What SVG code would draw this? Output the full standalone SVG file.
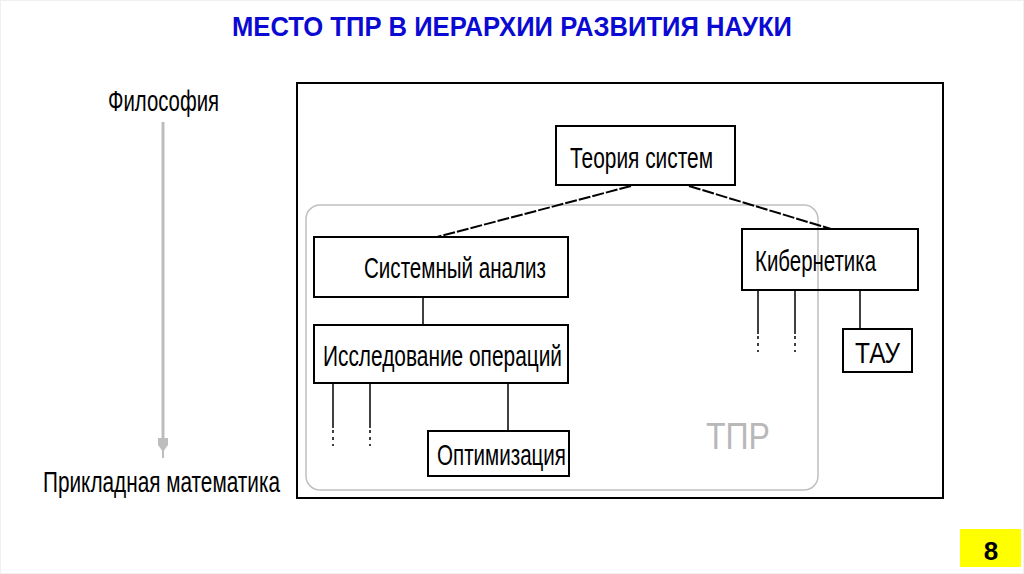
<svg xmlns="http://www.w3.org/2000/svg" width="1024" height="574" viewBox="0 0 1024 574">
<style>
.box{fill:#fff;stroke:#000;stroke-width:2}
.t{font-family:"Liberation Sans",Arial,sans-serif;font-size:29px;fill:#000}
.ln{stroke:#000;stroke-width:1.5;fill:none}
.dash{stroke:#000;stroke-width:2;fill:none;stroke-dasharray:12 2}
.dot{stroke:#000;stroke-width:1.5;fill:none;stroke-dasharray:3 4}
</style>
<rect x="0" y="0" width="1024" height="574" fill="#fff"/>
<rect x="0.5" y="0.5" width="1023" height="573" fill="none" stroke="#f0f0f0"/>
<text x="512" y="36" text-anchor="middle" font-family="Liberation Sans,Arial,sans-serif" font-weight="bold" font-size="27" fill="#0a0ad2" textLength="560" lengthAdjust="spacingAndGlyphs">МЕСТО ТПР В ИЕРАРХИИ РАЗВИТИЯ НАУКИ</text>

<rect x="297" y="83" width="646" height="415" fill="none" stroke="#000" stroke-width="2"/>

<g id="tpr">
<rect x="306" y="205" width="512" height="285" rx="14" fill="none" stroke="#c0c0c0" stroke-width="1.5"/>
<text x="706" y="449" font-family="Liberation Sans,Arial,sans-serif" font-size="36" fill="#b8b8b8" textLength="64" lengthAdjust="spacingAndGlyphs">ТПР</text>
</g>

<g id="axis">
<text x="108" y="111" class="t" textLength="111" lengthAdjust="spacingAndGlyphs">Философия</text>
<line x1="163" y1="122" x2="163" y2="440" stroke="#bdbdbd" stroke-width="3"/>
<path d="M158,438 L168,438 L168,445 L163,452 L158,445 Z" fill="#bdbdbd"/>
<line x1="163" y1="450" x2="163" y2="458" stroke="#bdbdbd" stroke-width="2"/>
<text x="43" y="492" class="t" textLength="237" lengthAdjust="spacingAndGlyphs">Прикладная математика</text>
</g>

<g id="connectors">
<line class="dash" x1="631" y1="186" x2="437" y2="237"/>
<line class="dash" x1="689" y1="186" x2="831" y2="229"/>
<line class="ln" x1="423" y1="297" x2="423" y2="325"/>
<line class="ln" x1="333" y1="383" x2="333" y2="428"/>
<line class="dot" x1="333" y1="430" x2="333" y2="446"/>
<line class="ln" x1="370" y1="383" x2="370" y2="428"/>
<line class="dot" x1="370" y1="430" x2="370" y2="446"/>
<line class="ln" x1="508" y1="383" x2="508" y2="431"/>
<line class="ln" x1="758" y1="290" x2="758" y2="334"/>
<line class="dot" x1="758" y1="336" x2="758" y2="352"/>
<line class="ln" x1="795" y1="290" x2="795" y2="334"/>
<line class="dot" x1="795" y1="336" x2="795" y2="352"/>
<line class="ln" x1="860" y1="290" x2="860" y2="329"/>
</g>

<g id="teoria">
<rect class="box" x="556" y="126" width="179" height="59"/>
<text x="570" y="168" class="t" textLength="143" lengthAdjust="spacingAndGlyphs">Теория систем</text>
</g>
<g id="sistanaliz">
<rect class="box" x="314" y="237" width="254" height="60"/>
<text x="364" y="278" class="t" textLength="182" lengthAdjust="spacingAndGlyphs">Системный анализ</text>
</g>
<g id="issledovanie">
<rect class="box" x="314" y="325" width="254" height="58"/>
<text x="323" y="366" class="t" textLength="239" lengthAdjust="spacingAndGlyphs">Исследование операций</text>
</g>
<g id="optimizacia">
<rect class="box" x="428" y="431" width="141" height="45"/>
<text x="437" y="465" class="t" textLength="129" lengthAdjust="spacingAndGlyphs">Оптимизация</text>
</g>
<g id="kibernetika">
<rect class="box" x="742" y="229" width="176" height="61" style="fill:none"/>
<text x="755" y="271" class="t" textLength="121" lengthAdjust="spacingAndGlyphs">Кибернетика</text>
</g>
<g id="tau">
<rect class="box" x="843" y="329" width="69" height="43"/>
<text x="855" y="363" class="t" textLength="45" lengthAdjust="spacingAndGlyphs">ТАУ</text>
</g>

<g id="page">
<rect x="960" y="529" width="61" height="38" fill="#ffff00"/>
<text x="991" y="560" text-anchor="middle" font-family="Liberation Sans,Arial,sans-serif" font-weight="bold" font-size="26" fill="#000">8</text>
</g>
</svg>
